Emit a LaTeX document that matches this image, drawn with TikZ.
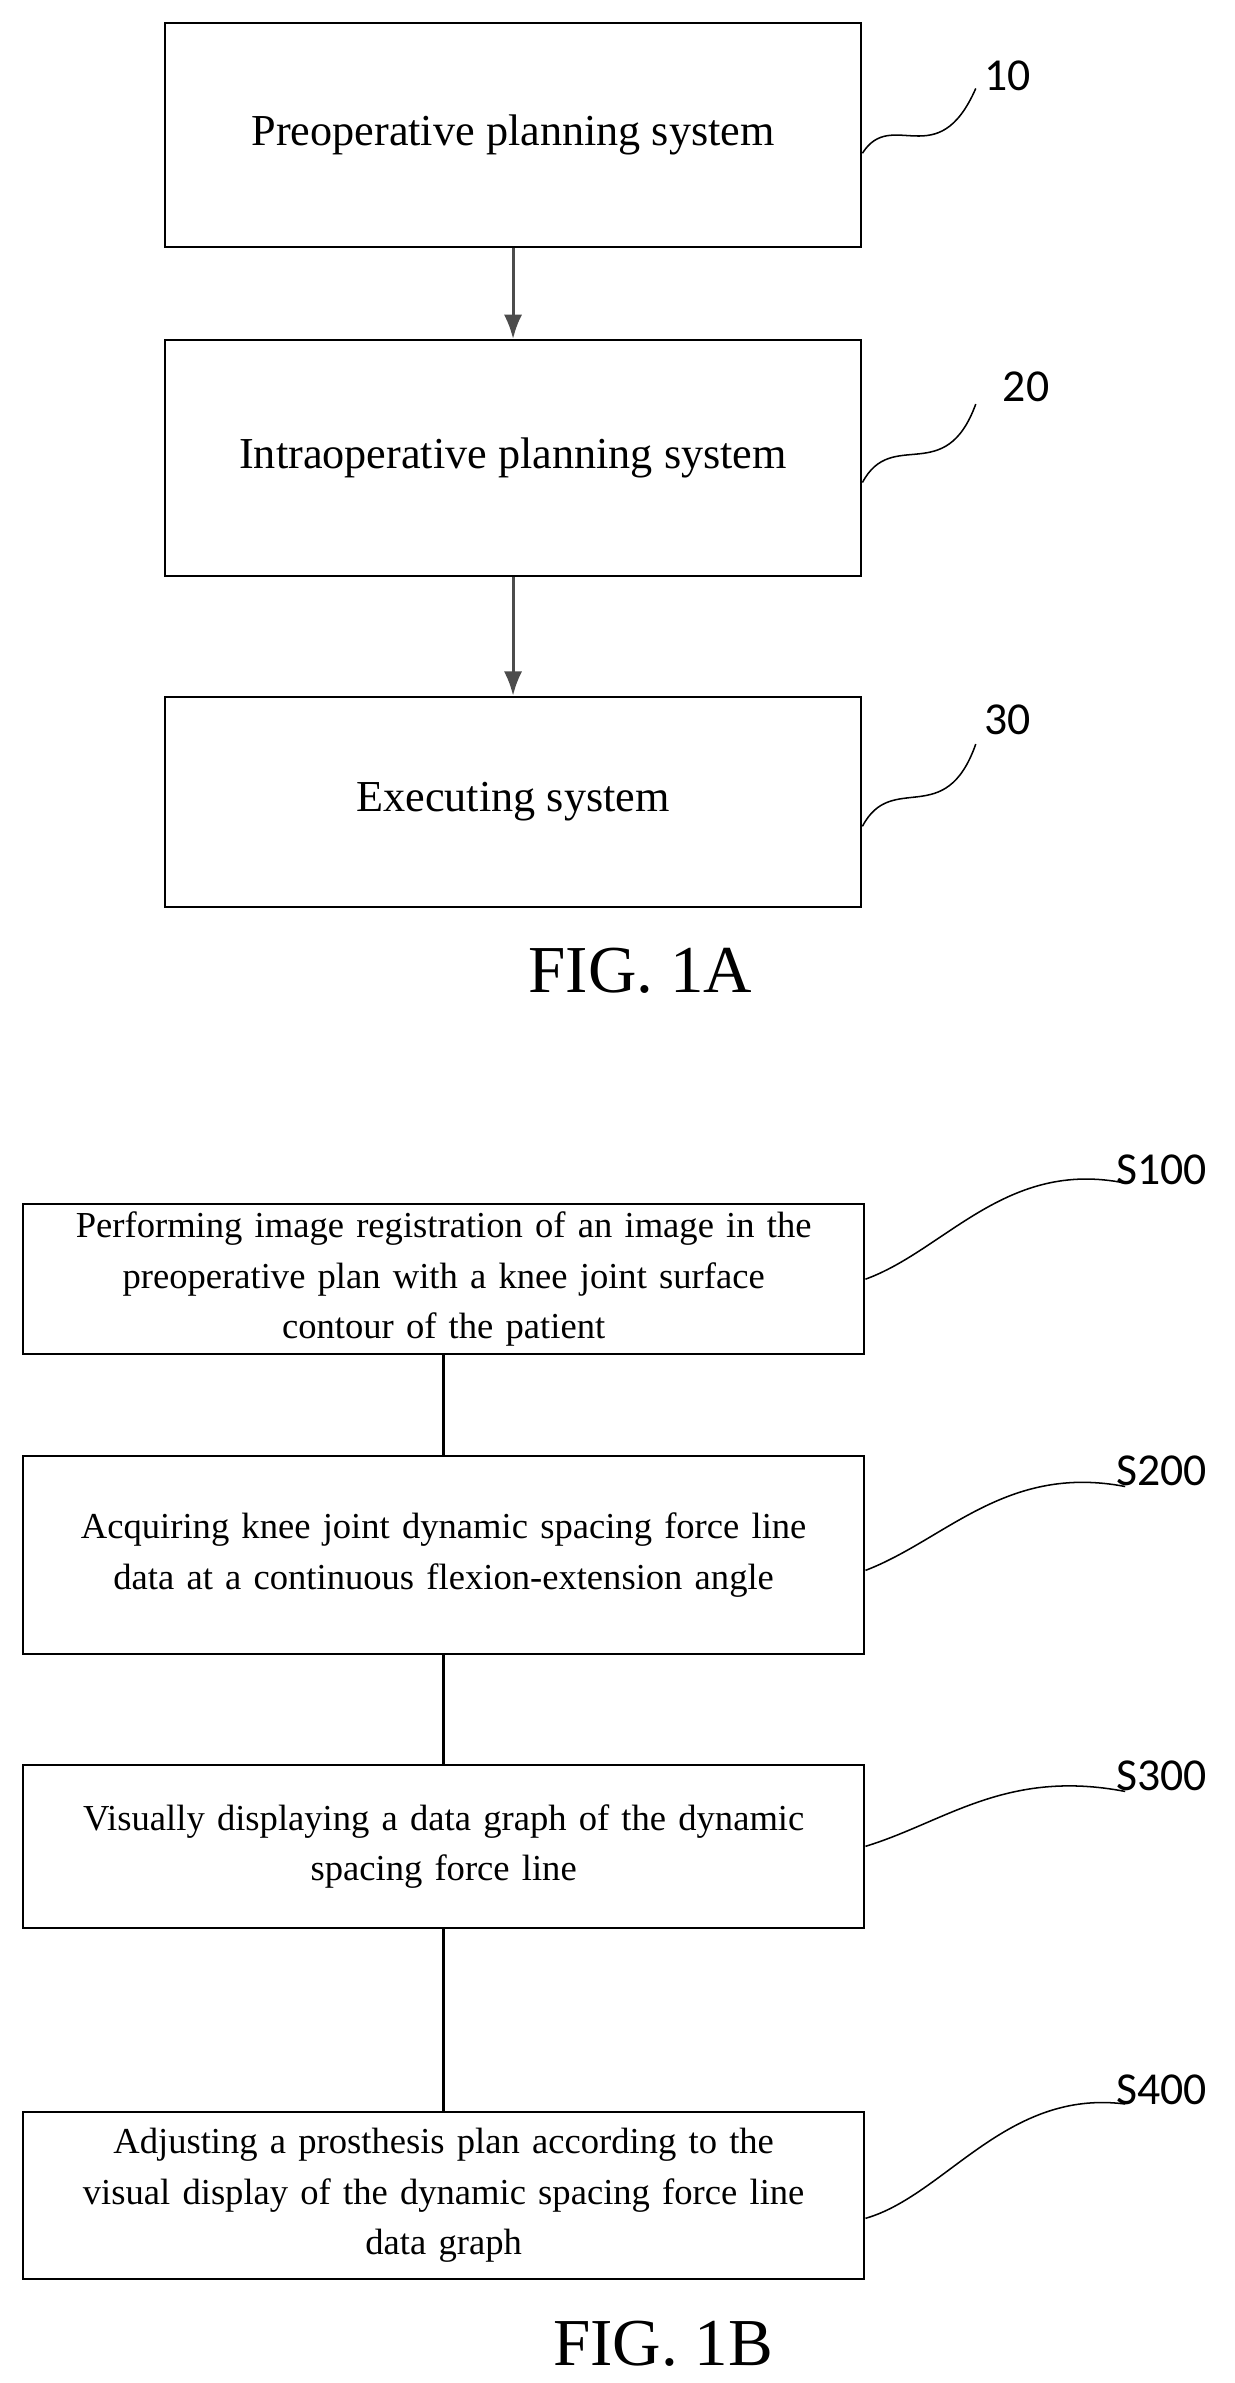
\documentclass[tikz,border=0pt]{standalone}
\usepackage{fontspec}
\setmainfont{Liberation Serif}
\newfontfamily\labelfont{Carlito}
\usetikzlibrary{arrows.meta}
\tikzstyle{block} = [rectangle, draw=black, line width=1.3pt, inner sep=0pt,
  text centered, align=center, font=\fontsize{29}{34}\selectfont]
\tikzstyle{stage} = [block, minimum width=552pt, text width=545pt,
  font=\fontsize{24}{33}\selectfont]
\tikzstyle{arrow} = [line width=2pt, draw=black!70, -{Latex[length=16pt,width=12pt]}]
\tikzstyle{link} = [line width=2pt]
\tikzstyle{wave} = [line width=1pt]
\tikzstyle{tag} = [font=\labelfont\fontsize{30}{34}\selectfont]
\tikzstyle{caption} = [font=\fontsize{44}{50}\selectfont]

\begin{document}
\begin{tikzpicture}[x=1pt, y=-1pt]
  \useasboundingbox (0,0) rectangle (810,1563);
  % FIG. 1A
  \node (sys10) [block, minimum width=457pt, minimum height=147pt] at (336.5,88.5)
    {Preoperative planning system};
  \node (sys20) [block, minimum width=457pt, minimum height=155pt] at (336.5,300.5)
    {Intraoperative planning system};
  \node (sys30) [block, minimum width=457pt, minimum height=138pt] at (336.5,526)
    {Executing system};
  \node (capA) [caption] at (420,637) {FIG. 1A};

  \draw [arrow] (sys10) -- (sys20);
  \draw [arrow] (sys20) -- (sys30);

  \coordinate (w10) at (640,58);
  \coordinate (w20) at (640,265);
  \coordinate (w30) at (640,488);
  \node (t10) [tag] at (661,50) {10};
  \node (t20) [tag] at (673,254) {20};
  \node (t30) [tag] at (661,472) {30};
  \draw [wave] ([yshift=-12pt]sys10.east) .. controls (585,70) and (615,115) .. (w10);
  \draw [wave] ([yshift=-16pt]sys20.east) .. controls (585,280) and (620,320) .. (w20);
  \draw [wave] ([yshift=-16pt]sys30.east) .. controls (585,505) and (620,545) .. (w30);

  % FIG. 1B
  \node (s100) [stage, minimum height=98pt] at (291,839)
    {Performing image registration of an image in the\\
     preoperative plan with a knee joint surface\\contour of the patient};
  \node (s200) [stage, minimum height=130pt] at (291,1020)
    {Acquiring knee joint dynamic spacing force line\\
     data at a continuous flexion-extension angle};
  \node (s300) [stage, minimum height=107pt] at (291,1211)
    {Visually displaying a data graph of the dynamic\\spacing force line};
  \node (s400) [stage, minimum height=110pt] at (291,1440)
    {Adjusting a prosthesis plan according to the\\
     visual display of the dynamic spacing force line\\data graph};
  \node (capB) [caption] at (435,1537) {FIG. 1B};

  \draw [link] (s100) -- (s200);
  \draw [link] (s200) -- (s300);
  \draw [link] (s300) -- (s400);

  \coordinate (w100) at (738,776);
  \coordinate (w200) at (738,975);
  \coordinate (w300) at (738,1175);
  \coordinate (w400) at (738,1380);
  \node (t100) [tag] at (762,767) {S100};
  \node (t200) [tag] at (762,965) {S200};
  \node (t300) [tag] at (762,1165) {S300};
  \node (t400) [tag] at (762,1371) {S400};
  \draw [wave] (s100.east) .. controls (620,820) and (660,760) .. (w100);
  \draw [wave] ([yshift=-10pt]s200.east) .. controls (620,1010) and (660,960) .. (w200);
  \draw [wave] (s300.east) .. controls (620,1195) and (660,1160) .. (w300);
  \draw [wave] ([yshift=-15pt]s400.east) .. controls (620,1440) and (660,1370) .. (w400);
\end{tikzpicture}
\end{document}
